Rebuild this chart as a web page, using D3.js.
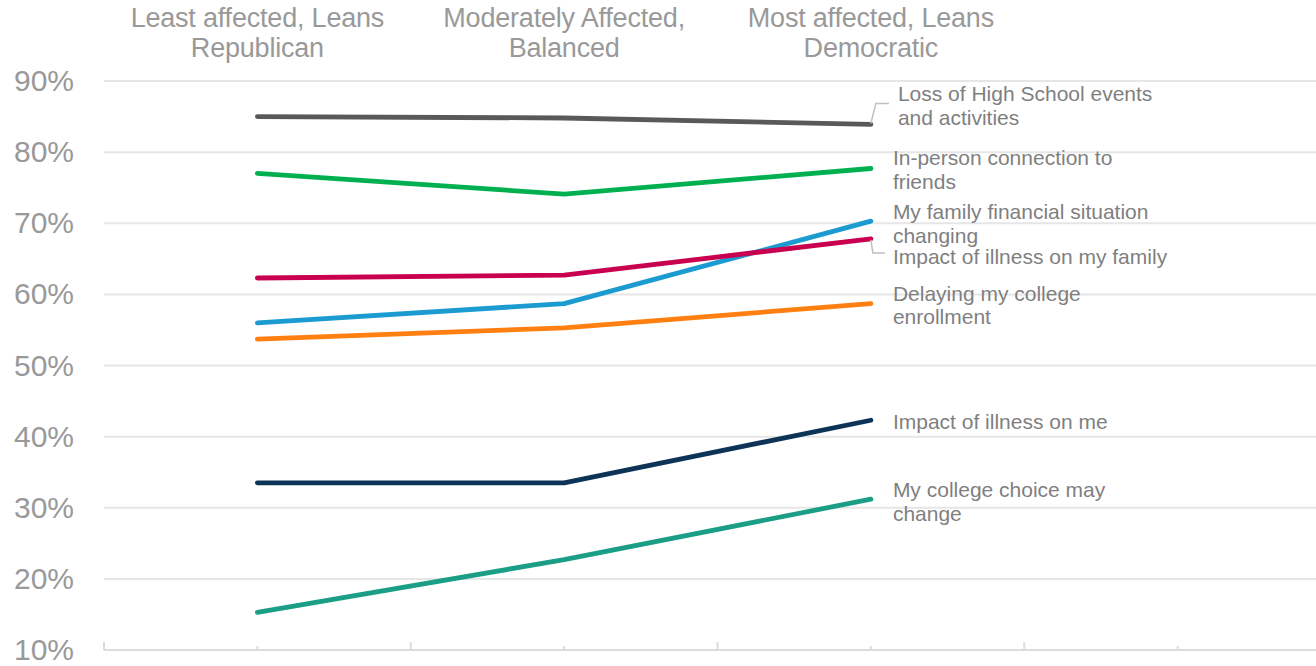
<!DOCTYPE html>
<html>
<head>
<meta charset="utf-8">
<script src="https://cdn.jsdelivr.net/npm/d3@7"></script>
<style>
  body { margin: 0; background: #fff; }
  svg { display: block; font-family: "Liberation Sans", Arial, sans-serif; }
</style>
</head>
<body>
<div id="chart"></div>
<script>
// categories (4th slot is empty in the original chart)
const categories = ['Least affected, Leans Republican', 'Moderately Affected, Balanced', 'Most affected, Leans Democratic', ''];
const categoryLines = [['Least affected, Leans', 'Republican'], ['Moderately Affected,', 'Balanced'], ['Most affected, Leans', 'Democratic'], []];

const yTicks = [10, 20, 30, 40, 50, 60, 70, 80, 90];

// series
const seriesNames = [
  'Loss of High School events and activities',
  'In-person connection to friends',
  'My family financial situation changing',
  'Impact of illness on my family',
  'Delaying my college enrollment',
  'Impact of illness on me',
  'My college choice may change'
];
const seriesLabelLines = [
  ['Loss of High School events', 'and activities'],
  ['In-person connection to', 'friends'],
  ['My family financial situation', 'changing'],
  ['Impact of illness on my family'],
  ['Delaying my college', 'enrollment'],
  ['Impact of illness on me'],
  ['My college choice may', 'change']
];
const lossEvents   = [85.0, 84.8, 83.9];
const inPerson     = [77.0, 74.1, 77.7];
const familyMoney  = [56.0, 58.7, 70.3];
const illnessFam   = [62.3, 62.7, 67.8];
const delayCollege = [53.7, 55.3, 58.7];
const illnessMe    = [33.5, 33.5, 42.3];
const collegeChoice= [15.3, 22.7, 31.2];
const seriesValues = [lossEvents, inPerson, familyMoney, illnessFam, delayCollege, illnessMe, collegeChoice];
const seriesColors = ['#595959', '#00b050', '#1b9bcf', '#c8004f', '#ff7f11', '#0d3457', '#1b9e86'];

const width = 1316, height = 666;
const svg = d3.select('#chart').append('svg')
  .attr('width', width)
  .attr('height', height);

const x = d3.scaleBand().domain(d3.range(categories.length)).range([104, 1331]);
const y = d3.scaleLinear().domain([10, 90]).range([650, 81]);

// gridlines
svg.append('g')
  .selectAll('line')
  .data(yTicks.slice(1))
  .enter().append('line')
  .attr('x1', 104).attr('x2', width)
  .attr('y1', d => y(d)).attr('y2', d => y(d))
  .style('stroke', '#e6e6e6')
  .style('stroke-width', 2);

// y labels
const yAxis = svg.append('g')
  .attr('transform', 'translate(74,0)')
  .call(d3.axisLeft(y).tickValues(yTicks).tickSize(0).tickPadding(0).tickFormat(d => d + '%'));
yAxis.select('.domain').remove();
yAxis.selectAll('text')
  .attr('fill', '#999999')
  .style('font-size', '30px')
  .style('font-family', '"Liberation Sans", Arial, sans-serif');

// bottom axis line + ticks (major at band edges, minor at centres)
const axisG = svg.append('g');
axisG.append('line')
  .attr('x1', 104).attr('x2', width)
  .attr('y1', y(10)).attr('y2', y(10))
  .style('stroke', '#dcdcdc').style('stroke-width', 2);
const edges = d3.range(categories.length + 1).map(i => x.range()[0] + i * x.step());
axisG.selectAll('.major')
  .data(edges)
  .enter().append('line')
  .attr('x1', d => d).attr('x2', d => d)
  .attr('y1', y(10)).attr('y2', y(10) - 8)
  .style('stroke', '#dcdcdc').style('stroke-width', 2);
axisG.selectAll('.minor')
  .data(d3.range(categories.length))
  .enter().append('line')
  .attr('x1', d => x(d) + x.bandwidth() / 2).attr('x2', d => x(d) + x.bandwidth() / 2)
  .attr('y1', y(10)).attr('y2', y(10) - 4)
  .style('stroke', '#dcdcdc').style('stroke-width', 2);

// category labels on top
svg.append('g')
  .selectAll('text')
  .data(categoryLines)
  .enter().append('text')
  .attr('x', (d, i) => x(i) + x.bandwidth() / 2)
  .attr('y', 27)
  .attr('text-anchor', 'middle')
  .attr('fill', '#999999')
  .style('font-size', '27px')
  .style('letter-spacing', '-0.2px')
  .each(function(lines) {
    const t = d3.select(this);
    lines.forEach((l, j) => {
      t.append('tspan')
        .attr('x', t.attr('x'))
        .attr('dy', j === 0 ? 0 : 30)
        .text(l);
    });
  });

// lines
const cx = i => x(i) + x.bandwidth() / 2;
const lineGen = d3.line().x((d, i) => cx(i)).y(d => y(d));
svg.append('g')
  .selectAll('path')
  .data(seriesValues)
  .enter().append('path')
  .attr('d', d => lineGen(d))
  .style('fill', 'none')
  .style('stroke', (d, i) => seriesColors[i])
  .style('stroke-width', 4.8)
  .style('stroke-linecap', 'round')
  .style('stroke-linejoin', 'round');

// label offsets relative to end point (layout only)
const labelDy = [-30, -10, -9, 18, -10, 2, -9];
const labelDx = [27, 22, 22, 22, 22, 22, 22];
const last = seriesValues[0].length - 1;

// leader lines for the two crowded labels
const leaders = svg.append('g')
  .style('fill', 'none').style('stroke', '#bfbfbf').style('stroke-width', 1.5);
leaders.append('path')
  .attr('d', `M${cx(last)},${y(lossEvents[last]) - 1}L${cx(last) + 5},${y(lossEvents[last]) + labelDy[0] + 9}h13`);
leaders.append('path')
  .attr('d', `M${cx(last)},${y(illnessFam[last]) + 1}L${cx(last) + 2},${y(illnessFam[last]) + labelDy[3] - 4}h12`);

svg.append('g')
  .selectAll('text')
  .data(seriesLabelLines)
  .enter().append('text')
  .attr('x', (d, i) => cx(last) + labelDx[i])
  .attr('y', (d, i) => y(seriesValues[i][last]) + labelDy[i] + 7)
  .attr('fill', '#7f7f7f')
  .style('font-size', '21px')
  .each(function(lines) {
    const t = d3.select(this);
    lines.forEach((l, j) => {
      t.append('tspan')
        .attr('x', t.attr('x'))
        .attr('dy', j === 0 ? 0 : 23.5)
        .text(l);
    });
  });
</script>
</body>
</html>
